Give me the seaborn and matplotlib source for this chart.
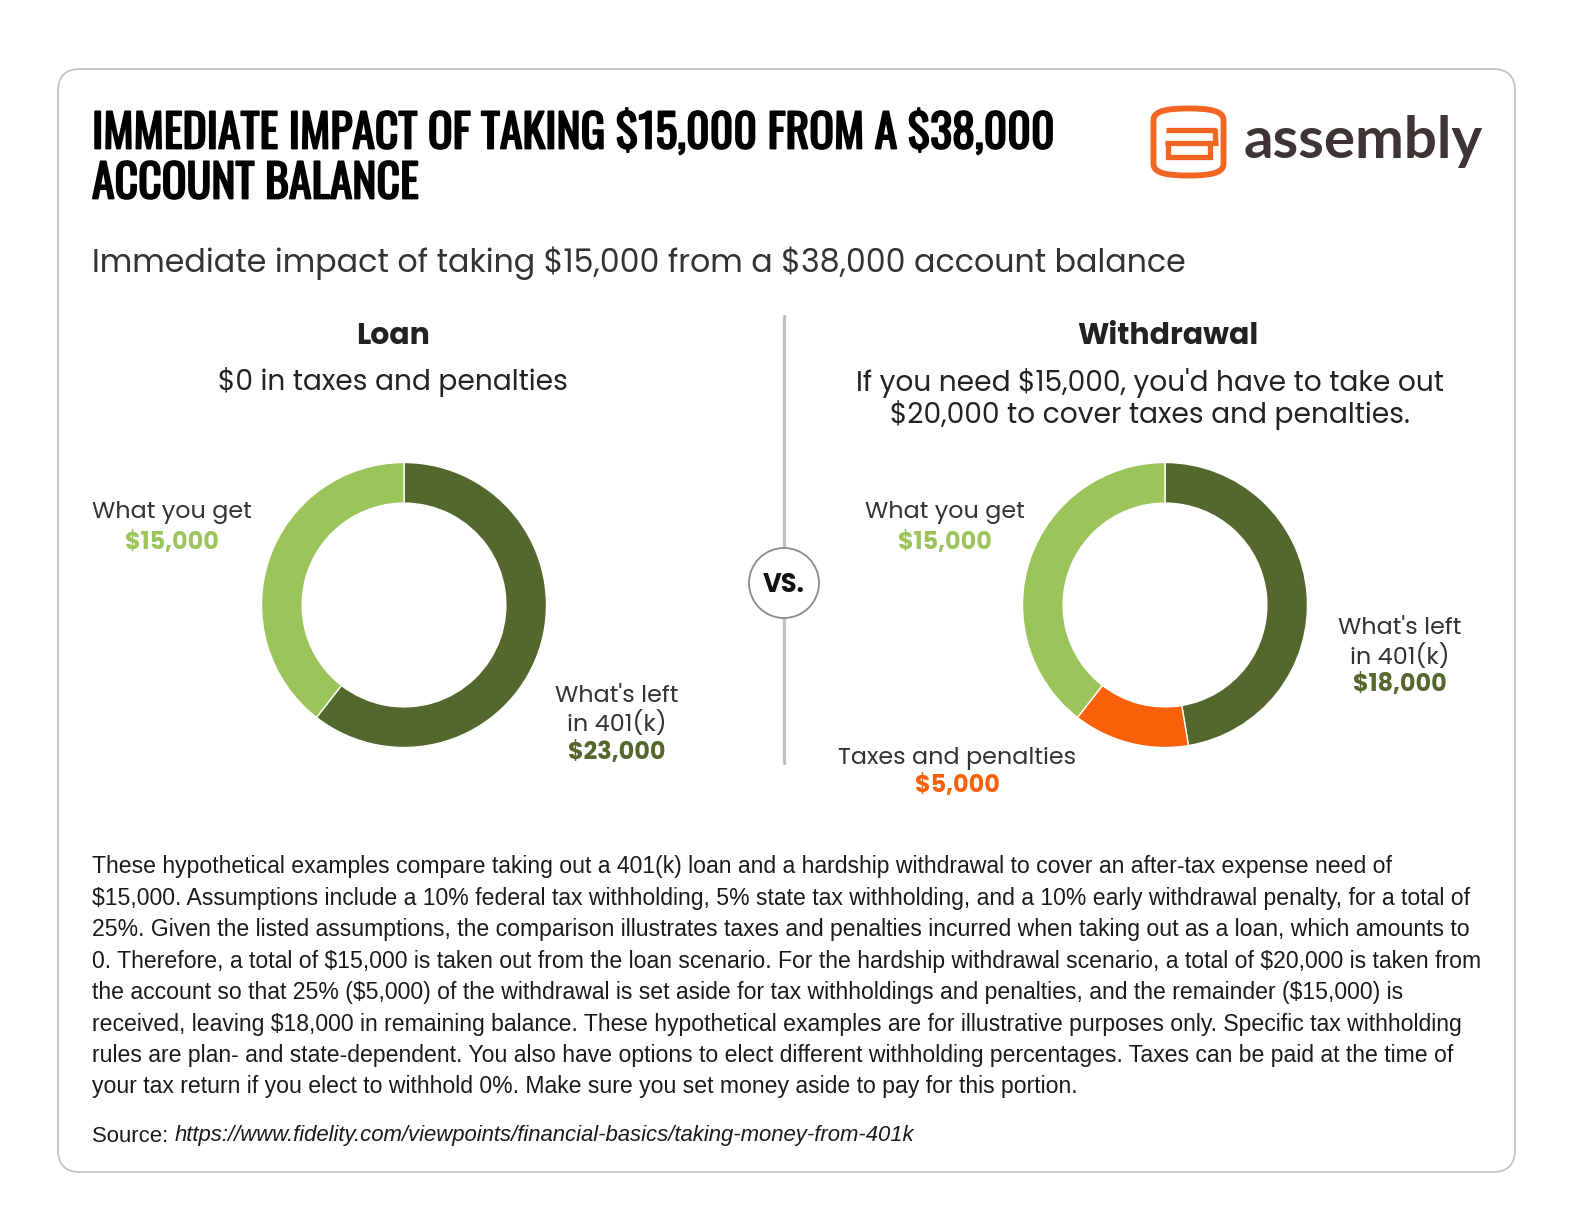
import matplotlib
matplotlib.use("Agg")
import matplotlib.pyplot as plt
import matplotlib.patheffects as pe
from matplotlib.path import Path
from matplotlib.patches import FancyBboxPatch, Circle, PathPatch
import seaborn as sns

loan_labels = ["What's left in 401(k)", "What you get"]
loan_values = [23000, 15000]
wd_labels = ["What's left in 401(k)", "Taxes and penalties", "What you get"]
wd_values = [18000, 5000, 15000]

seg_colors = {"What's left in 401(k)": "#54672C",
              "What you get": "#9BC45A",
              "Taxes and penalties": "#F8600A"}

title_lines = ["IMMEDIATE IMPACT OF TAKING $15,000 FROM A $38,000", "ACCOUNT BALANCE"]
subtitle = "Immediate impact of taking $15,000 from a $38,000 account balance"
note_lines = [
    "These hypothetical examples compare taking out a 401(k) loan and a hardship withdrawal to cover an after-tax expense need of",
    "$15,000. Assumptions include a 10% federal tax withholding, 5% state tax withholding, and a 10% early withdrawal penalty, for a total of",
    "25%. Given the listed assumptions, the comparison illustrates taxes and penalties incurred when taking out as a loan, which amounts to",
    "0. Therefore, a total of $15,000 is taken out from the loan scenario. For the hardship withdrawal scenario, a total of $20,000 is taken from",
    "the account so that 25% ($5,000) of the withdrawal is set aside for tax withholdings and penalties, and the remainder ($15,000) is",
    "received, leaving $18,000 in remaining balance. These hypothetical examples are for illustrative purposes only. Specific tax withholding",
    "rules are plan- and state-dependent. You also have options to elect different withholding percentages. Taxes can be paid at the time of",
    "your tax return if you elect to withhold 0%. Make sure you set money aside to pay for this portion.",
]
source_url = "https://www.fidelity.com/viewpoints/financial-basics/taking-money-from-401k"

sns.set_theme(style="white")
plt.rcParams['font.family'] = ['Poppins', 'DejaVu Sans']
plt.rcParams['text.parse_math'] = False

W, H = 1584, 1224
fig = plt.figure(figsize=(W / 100, H / 100), dpi=100)
fig.patch.set_facecolor("white")

# full-figure axis in pixel units for card, texts and logo
bg = fig.add_axes([0, 0, 1, 1])
bg.set_xlim(0, W)
bg.set_ylim(H, 0)
bg.axis("off")

card = FancyBboxPatch((58, 69), 1457, 1103, boxstyle="round,pad=0,rounding_size=22",
                      fc="white", ec="#c4c4c4", lw=1.3)
bg.add_patch(card)

# title (Oswald only ships regular here, so thicken it with a stroke)
title_font = ['Oswald', 'DejaVu Sans']
for i, line in enumerate(title_lines):
    bg.text(92, 133 + i * 51, line, family=title_font, fontweight="bold", fontsize=33,
            color="black", va="center", ha="left",
            path_effects=[pe.withStroke(linewidth=1.3, foreground="black")])

# logo
logo_c = "#F26522"
shield = Path([(1153.5, 164), (1153.5, 120),
               (1153.5, 110), (1170, 108.5), (1188.5, 108.5),
               (1207, 108.5), (1223.5, 110), (1223.5, 120),
               (1223.5, 164),
               (1223.5, 174), (1207, 175.5), (1188.5, 175.5),
               (1170, 175.5), (1153.5, 174), (1153.5, 164)],
              [Path.MOVETO, Path.LINETO,
               Path.CURVE4, Path.CURVE4, Path.CURVE4,
               Path.CURVE4, Path.CURVE4, Path.CURVE4,
               Path.LINETO,
               Path.CURVE4, Path.CURVE4, Path.CURVE4,
               Path.CURVE4, Path.CURVE4, Path.CURVE4])
bg.add_patch(PathPatch(shield, fc="none", ec=logo_c, lw=4.2))
bg.plot([1166, 1215, 1215], [129.5, 129.5, 143], color=logo_c, lw=3.8, solid_capstyle="butt")
bg.plot([1165, 1218], [143, 143], color=logo_c, lw=3.8, solid_capstyle="butt")
bg.plot([1168, 1168, 1210, 1210], [143, 157, 157, 143], color=logo_c, lw=3.8,
        solid_capstyle="butt", solid_joinstyle="miter")
bg.text(1244, 142, "assembly", family=['Lato', 'DejaVu Sans'], fontweight="bold", fontsize=42,
        color="#3E3434", va="center", ha="left")

# subtitle
bg.text(92, 263, subtitle, fontsize=22.8, color="#333333", va="center", ha="left")

# section headings
bg.text(393, 337, "Loan", fontsize=21.5, fontweight="bold", color="#222222", ha="center", va="center")
bg.text(393, 382, "$0 in taxes and penalties", fontsize=20.2, color="#222222", ha="center", va="center")
bg.text(1168, 337, "Withdrawal", fontsize=21.5, fontweight="bold", color="#222222", ha="center", va="center")
bg.text(1150, 383, "If you need $15,000, you'd have to take out", fontsize=20.2, color="#222222",
        ha="center", va="center")
bg.text(1150, 415, "$20,000 to cover taxes and penalties.", fontsize=20.2, color="#222222",
        ha="center", va="center")

# vs divider
bg.plot([784, 784], [316, 763], color="#c2c2c2", lw=2.4, zorder=1)
bg.add_patch(Circle((784, 583), 35, fc="white", ec="#8a8a8a", lw=1.3, zorder=2))
bg.text(784, 585, "VS.", fontsize=18.5, fontweight="bold", color="#111111", ha="center", va="center", zorder=3)


def donut(cx, cy, r, labels, values):
    ax = fig.add_axes([(cx - r) / W, 1 - (cy + r) / H, 2 * r / W, 2 * r / H])
    cols = sns.color_palette([seg_colors[l] for l in labels])
    ax.pie(values, colors=cols, startangle=90, counterclock=False, radius=1,
           wedgeprops=dict(width=0.285, edgecolor="white", linewidth=1.0))
    ax.set_xlim(-1, 1)
    ax.set_ylim(-1, 1)
    ax.set_aspect("equal")
    ax.axis("off")
    return ax


donut(404, 605, 142.5, loan_labels, loan_values)
donut(1165, 605, 142.5, wd_labels, wd_values)


def seg_label(x, y_lines, lines, y_val, value, color):
    for yy, txt in zip(y_lines, lines):
        bg.text(x, yy, txt, fontsize=17.2, color="#333333", ha="center", va="center")
    bg.text(x, y_val, f"${value:,.0f}", fontsize=17.2, fontweight="bold", color=color,
            ha="center", va="center")


# loan labels
seg_label(172, [513], ["What you get"], 544, loan_values[1], seg_colors["What you get"])
seg_label(617, [696.5, 724], ["What's left", "in 401(k)"], 753, loan_values[0],
          seg_colors["What's left in 401(k)"])
# withdrawal labels
seg_label(945, [513], ["What you get"], 544, wd_values[2], seg_colors["What you get"])
seg_label(1400, [629, 657], ["What's left", "in 401(k)"], 685.5, wd_values[0],
          seg_colors["What's left in 401(k)"])
seg_label(957, [759], ["Taxes and penalties"], 786.5, wd_values[1], seg_colors["Taxes and penalties"])

# footnote paragraph
note_font = ['Liberation Sans', 'DejaVu Sans']
for i, line in enumerate(note_lines):
    bg.text(92, 867 + i * 31.4, line, family=note_font, fontsize=16.6, color="#1a1a1a",
            ha="left", va="center")
src = bg.text(92, 1136, "Source: ", family=note_font, fontsize=15.9, color="#1a1a1a",
              ha="left", va="center")
bg.annotate(source_url, xy=(1, 0.5), xycoords=src, family=note_font, fontsize=15.9,
            style="italic", color="#1a1a1a", ha="left", va="center")

fig.savefig("out.png", dpi=100, facecolor="white")
